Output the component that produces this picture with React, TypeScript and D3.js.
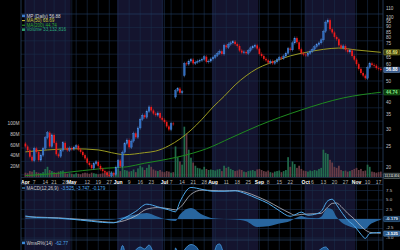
import React from 'react';
import * as d3 from 'd3';

// ---------- data ----------
const closes = [
  25.0, 24.0, 22.4, 21.5, 24.5, 23.6, 21.6, 22.8, 24.5, 27.5, 29.0, 25.0, 28.3, 26.0, 23.0, 22.5, 24.0, 26.0, 24.5, 24.0, 24.6,
  24.3, 24.8, 25.2, 24.2, 23.6, 22.8, 22.0, 21.0, 20.5, 19.8, 20.8, 21.2, 20.3, 19.6, 19.2, 18.9, 18.4, 18.2, 18.8, 18.5, 20.0,
  21.5, 20.2, 23.5, 25.8, 26.8, 24.8, 26.5, 28.8, 27.6, 30.5, 33.5, 35.0, 34.2, 36.5, 38.2, 36.8, 35.6, 35.0, 35.8, 34.0, 33.3,
  32.5, 31.0, 30.0, 32.0, 31.8, 45.5, 46.5, 44.5, 45.0, 61.0, 60.5, 62.5, 63.5, 61.0, 61.8, 62.5, 63.0, 63.8, 65.5, 62.0, 62.5, 64.0,
  65.0, 66.5, 68.0, 69.5, 67.5, 74.0, 72.5, 75.0, 76.0, 77.0, 75.0, 73.5, 70.0, 68.5, 69.0, 68.0, 70.0, 72.0, 73.0, 74.0, 71.5,
  67.5, 66.0, 64.0, 63.0, 61.5, 62.5, 61.0, 62.0, 63.5, 65.0, 64.5, 66.0, 68.0, 71.5, 70.5, 76.0, 80.0, 76.5, 71.0, 68.0, 67.0,
  66.5, 68.0, 69.5, 71.0, 73.0, 74.5, 76.0, 78.5, 86.0, 95.0, 97.0, 88.0, 85.0, 81.0, 79.0, 74.0, 72.0, 73.5, 70.5, 69.0, 70.0, 66.0, 63.5,
  60.5, 57.5, 55.0, 53.5, 52.0, 58.5, 61.0, 60.0, 59.5, 58.0, 57.5, 56.88,
];
const firstOpen = 25.8;
const gapDayIdx = [68, 72];
const gapDayOpen = [42.5, 53.5];

const volumesM = [
  9, 8, 12, 11, 14, 10, 9, 8, 10, 16, 20, 14, 12, 10, 9, 11, 12, 13, 8, 7, 8,
  7, 6, 8, 7, 6, 8, 9, 8, 7, 9, 8, 7, 6, 7, 8, 9, 10, 12, 11, 9, 14,
  16, 12, 18, 14, 13, 11, 12, 15, 10, 17, 22, 19, 14, 18, 24, 20, 15, 13, 12, 14, 11,
  10, 12, 11, 9, 10, 58, 38, 30, 24, 95, 82, 52, 37, 28, 22, 18, 17, 15, 20, 16, 14, 15,
  14, 13, 15, 16, 12, 22, 18, 20, 16, 14, 12, 13, 15, 14, 11, 10, 12, 13, 14, 12, 15,
  16, 14, 12, 11, 13, 10, 9, 11, 12, 13, 10, 12, 14, 38, 20, 30, 25, 18, 22, 16, 13,
  12, 11, 13, 12, 14, 13, 16, 18, 52, 46, 44, 33, 28, 20, 18, 22, 14, 12, 13, 11, 12, 14, 16,
  18, 14, 16, 12, 13, 24, 20, 11, 10, 9, 10, 11,
];

const ma50Idx = [0, 10, 22, 33, 39, 45, 54, 59, 65, 70, 75, 80, 85, 90, 95, 100, 105, 110, 115, 120, 127, 135, 142, 150, 161];
const ma50Val = [23.6, 24.1, 24.4, 24.1, 23.4, 22.9, 23.4, 23.8, 25.2, 27.1, 29.8, 33.5, 38.2, 42.8, 48.4, 53.4, 57.7, 60.8, 63.5, 66.1, 68.6, 70.9, 71.9, 70.4, 68.69];

const ma200Idx = [0, 16, 36, 46, 54, 61, 76, 82, 93, 106, 125, 144, 161];
const ma200Val = [18.3, 18.8, 19.8, 20.1, 20.9, 21.5, 23.3, 24.4, 27.4, 31.4, 37.0, 42.1, 44.74];

const macdIdx = [0, 5, 10, 15, 20, 25, 30, 35, 40, 45, 50, 55, 60, 65, 68, 70, 75, 80, 85, 90, 95, 100, 105, 110, 115, 120, 122, 125, 128, 132, 134, 137, 139, 141, 143, 146, 149, 152, 154, 156, 159, 161];
const macdLine = [0.8, 0.4, 0.3, 0.2, 0.0, -0.3, -0.6, -0.9, -1.0, 0.3, 2.0, 3.9, 3.2, 2.4, 1.9, 4.5, 8.3, 7.8, 7.3, 7.3, 7.4, 6.6, 5.4, 4.1, 2.2, 0.7, 1.1, 1.8, 1.0, 1.4, 2.0, 4.8, 5.2, 3.7, 2.0, -0.3, -1.8, -4.0, -5.1, -3.8, -3.6, -3.5];
const signalLine = [0.6, 0.5, 0.4, 0.3, 0.1, -0.1, -0.4, -0.7, -0.9, -0.4, 0.8, 2.6, 3.0, 2.7, 2.4, 3.0, 6.5, 7.6, 7.5, 7.4, 7.5, 7.0, 5.9, 4.6, 3.0, 1.5, 1.0, 1.2, 1.3, 1.4, 1.5, 3.2, 4.1, 4.2, 3.3, 1.5, 0.0, -1.9, -2.9, -3.5, -3.7, -3.75];
const histVals = [0.2, 0.1, 0.0, 0.0, -0.1, -0.1, -0.2, -0.2, -0.1, 0.6, 1.2, 1.6, 0.6, -0.3, -0.5, 1.2, 2.9, 1.2, 0.2, 0.0, -0.1, -0.6, -2.1, -1.9, -1.2, -0.5, 0.1, 0.8, 0.3, 0.2, 0.6, 2.9, 2.5, 0.5, -0.8, -1.8, -2.4, -2.6, -2.6, -1.5, -0.6, -0.2];

const wrIdx = [0, 6, 12, 18, 24, 30, 36, 40, 42, 44, 46, 49, 52, 54, 56, 58, 60, 64, 67, 68, 70, 72, 75, 77, 80, 84, 87, 88, 91, 95, 100, 104, 108, 113, 118, 121, 124, 128, 133, 136, 139, 143, 148, 152, 154, 155, 158, 161];
const wrVals = [-55, -70, -35, -60, -50, -85, -95, -80, -45, -5, -30, -18, -8, -12, -4, -20, -45, -75, -70, -10, -30, -14, -3, -6, -25, -35, -3, -2, -35, -40, -60, -30, -80, -75, -40, -15, -60, -40, -15, -8, -30, -80, -90, -97, -98, -45, -60, -62.77];

const priceTicks = [110, 100, 95, 90, 85, 80, 75, 70, 65, 60, 55, 50, 45, 40, 35, 30, 25, 20];
const volumeTicks = [20, 40, 60, 80, 100];
const macdTicks = [7.5, 5, 2.5, -2.5, -5];
const monthNames = ['Jan', 'Feb', 'Mar', 'Apr', 'May', 'Jun', 'Jul', 'Aug', 'Sep', 'Oct', 'Nov', 'Dec'];
const holidays = ['2014-04-18', '2014-05-26', '2014-07-04', '2014-09-01'];

// ---------- helpers ----------
function buildDays(): Date[] {
  const out: Date[] = [];
  let d = new Date(Date.UTC(2014, 3, 1));
  const end = new Date(Date.UTC(2014, 10, 18));
  while (d <= end) {
    const wd = d.getUTCDay();
    const iso = d.toISOString().slice(0, 10);
    if (wd !== 0 && wd !== 6 && holidays.indexOf(iso) < 0) out.push(new Date(d));
    d = new Date(d.getTime() + 86400000);
  }
  return out;
}

const FONT = 'Liberation Sans, Arial, sans-serif';
const PL = 21, PR = 383;
const MAIN_BOTTOM = 177.5;
const MACD_TOP = 184.5, MACD_BOTTOM = 240;
const NAVY = '#14142e';
const GRID = '#1a2d4a';
const BORDER = '#2a4262';

export default function App() {
  const days = buildDays();
  const x = d3.scaleLinear().domain([-2, 162]).range([PL, PR]);
  const yP = d3.scaleLog().domain([20, 100]).range([167.3, 17.3]);
  const yV = d3.scaleLinear().domain([0, 100]).range([MAIN_BOTTOM, 124]);
  const yM = d3.scaleLinear().domain([-5, 7.5]).range([238, 190.5]);
  const yW = d3.scaleLinear().domain([-100, 0]).range([293, 243]);

  const opens = closes.map((c, i) => {
    const g = gapDayIdx.indexOf(i);
    if (g >= 0) return gapDayOpen[g];
    return i === 0 ? firstOpen : closes[i - 1];
  });

  // month segments
  const months: { m: number; start: number; end: number }[] = [];
  days.forEach((d, i) => {
    const m = d.getUTCMonth();
    if (!months.length || months[months.length - 1].m !== m) months.push({ m, start: i, end: i });
    else months[months.length - 1].end = i;
  });
  const weekStarts: number[] = [];
  days.forEach((d, i) => {
    if (i === 0 || d.getUTCDay() <= days[i - 1].getUTCDay()) weekStarts.push(i);
  });
  const monthStarts = months.map((m) => m.start);
  const labels: { i: number; text: string; bold: boolean }[] = [];
  monthStarts.forEach((i) => labels.push({ i, text: monthNames[days[i].getUTCMonth()], bold: true }));
  weekStarts.forEach((i) => {
    if (monthStarts.indexOf(i) >= 0) return;
    const near = monthStarts.some((s) => Math.abs(i - s) < 3);
    if (near) return;
    labels.push({ i, text: String(days[i].getUTCDate()), bold: false });
  });
  const gridXs = Array.from(new Set([...weekStarts, ...monthStarts]));

  const bandX0 = (m: { start: number }) => Math.max(PL, x(m.start - 0.5));
  const bandX1 = (m: { end: number }) => Math.min(PR, x(m.end + 0.5));

  const hGrid = d3.range(0, 13).map((k) => 14 + k * 13.4);

  const ma50Path = d3.line<number>().x((_, k) => x(ma50Idx[k])).y((v) => yP(v)).curve(d3.curveMonotoneX)(ma50Val) || '';
  const ma200Path = d3.line<number>().x((_, k) => x(ma200Idx[k])).y((v) => yP(v)).curve(d3.curveMonotoneX)(ma200Val) || '';
  const macdPath = d3.line<number>().x((_, k) => x(macdIdx[k])).y((v) => yM(v)).curve(d3.curveMonotoneX)(macdLine) || '';
  const sigPath = d3.line<number>().x((_, k) => x(macdIdx[k])).y((v) => yM(v)).curve(d3.curveMonotoneX)(signalLine) || '';
  const histPath = d3.area<number>().x((_, k) => x(macdIdx[k])).y0(yM(0)).y1((v) => yM(v)).curve(d3.curveMonotoneX)(histVals) || '';
  const wrLine = d3.line<number>().x((_, k) => x(wrIdx[k])).y((v) => yW(v)).curve(d3.curveMonotoneX)(wrVals) || '';
  const wrArea = d3.area<number>().x((_, k) => x(wrIdx[k])).y0(300).y1((v) => yW(v)).curve(d3.curveMonotoneX)(wrVals) || '';

  const lastClose = closes[closes.length - 1];
  const lastMa50 = ma50Val[ma50Val.length - 1];
  const lastMa200 = ma200Val[ma200Val.length - 1];
  const boxYs = [yP(lastClose), yP(lastMa50), yP(lastMa200)];

  const box = (y: number, text: string, fill: string, stroke: string, color: string, key: string, fs = 4.6) => (
    <g key={key}>
      <rect x={383.5} y={y - 2.6} width={16.5} height={5.2} fill={fill} stroke={stroke} strokeWidth={0.5} rx={0.8} />
      <text x={391.8} y={y + 0.2} fontSize={fs} fill={color} textAnchor="middle"
        dominantBaseline="middle" fontFamily={FONT} fontWeight="bold">{text}</text>
    </g>
  );

  return (
    <svg width={400} height={250} style={{ position: 'absolute', left: 0, top: 0, background: '#000' }}>
      <defs>
        <clipPath id="mainClip"><rect x={PL} y={0} width={PR - PL} height={MAIN_BOTTOM} /></clipPath>
        <clipPath id="macdClip"><rect x={PL} y={MACD_TOP} width={PR - PL} height={MACD_BOTTOM - MACD_TOP} /></clipPath>
        <clipPath id="wrClip"><rect x={PL} y={MACD_BOTTOM} width={PR - PL} height={20} /></clipPath>
      </defs>
      <rect x={0} y={0} width={400} height={250} fill="#000" />

      {/* month bands */}
      {months.map((m, k) => (k % 2 === 0 ? (
        <g key={'band' + k}>
          <rect x={bandX0(m)} y={0} width={bandX1(m) - bandX0(m)} height={MAIN_BOTTOM} fill={NAVY} />
          <rect x={bandX0(m)} y={MACD_TOP} width={bandX1(m) - bandX0(m)} height={250 - MACD_TOP} fill={NAVY} />
        </g>
      ) : null))}

      {/* grid */}
      {gridXs.map((i) => (
        <g key={'vg' + i}>
          <line x1={x(i)} x2={x(i)} y1={0} y2={MAIN_BOTTOM} stroke={GRID} strokeWidth={0.6} />
          <line x1={x(i)} x2={x(i)} y1={MACD_TOP} y2={250} stroke={GRID} strokeWidth={0.6} />
        </g>
      ))}
      {hGrid.map((y, k) => (
        <line key={'hg' + k} x1={PL} x2={PR} y1={y} y2={y} stroke={k === 0 ? '#24406a' : GRID} strokeWidth={0.6} />
      ))}
      {[7.5, 5, 2.5, 0, -2.5, -5].map((v) => (
        <line key={'mg' + v} x1={PL} x2={PR} y1={yM(v)} y2={yM(v)} stroke={GRID} strokeWidth={0.6} />
      ))}

      {/* main panel */}
      <g clipPath="url(#mainClip)">
        {volumesM.map((v, i) => (
          <rect key={'v' + i} x={x(i) - 0.85} y={yV(v)} width={1.7} height={yV(0) - yV(v)}
            fill={closes[i] >= opens[i] ? '#23704f' : '#6a3e48'} opacity={0.95} />
        ))}
        <path d={ma200Path} fill="none" stroke="#1f8a1f" strokeWidth={1} />
        <path d={ma50Path} fill="none" stroke="#9a9a22" strokeWidth={1} />
        {closes.map((c, i) => {
          const o = opens[i];
          const up = c >= o;
          const hi = Math.max(o, c) * 1.018;
          const lo = Math.min(o, c) * 0.982;
          const top = yP(Math.max(o, c));
          const h = Math.max(0.8, yP(Math.min(o, c)) - top);
          const col = up ? '#2f6cc0' : '#ee1c1c';
          return (
            <g key={'c' + i}>
              <line x1={x(i)} x2={x(i)} y1={yP(hi)} y2={yP(lo)} stroke={up ? '#4a88d8' : '#d01818'} strokeWidth={0.5} />
              <rect x={x(i) - 0.85} y={top} width={1.7} height={h} fill={col} stroke={up ? '#5a98e8' : 'none'} strokeWidth={0.3} />
            </g>
          );
        })}
      </g>

      {/* legend main */}
      <g fontFamily={FONT} fontSize={4.6}>
        <rect x={22} y={14.6} width={3} height={2.6} fill="#3a78c8" />
        <text x={26.5} y={17.6} fill="#d8d8d8">MP (Daily) 56.88</text>
        <line x1={22} x2={25} y1={20.6} y2={20.6} stroke="#c8c83a" strokeWidth={1} />
        <text x={26.5} y={22.2} fill="#c8c83a">MA(50) 68.69</text>
        <line x1={22} x2={25} y1={25.2} y2={25.2} stroke="#2aa82a" strokeWidth={1} />
        <text x={26.5} y={26.8} fill="#2aa82a">MA(200) 44.74</text>
        <rect x={22} y={28.4} width={3} height={2.6} fill="#2a9a6a" />
        <text x={26.5} y={31.4} fill="#2aa878">Volume 33,132,816</text>
      </g>

      {/* right price axis */}
      <g fontFamily={FONT} fontSize={4.6} fill="#c4c4c4">
        {priceTicks.filter((p) => boxYs.every((b) => Math.abs(yP(p) - b) > 4)).map((p) => (
          <text key={'pt' + p} x={386} y={yP(p)} dominantBaseline="middle">{p}</text>
        ))}
      </g>
      {box(yP(lastMa50), '68.69', '#3c3c0c', '#a8a830', '#e4e480', 'b50')}
      {box(yP(lastClose), '56.88', '#3a5a8c', '#7aa0d0', '#ffffff', 'bc')}
      {box(yP(lastMa200), '44.74', '#0c3a0c', '#2aa02a', '#88e888', 'b200')}
      {box(MAIN_BOTTOM - 1.6, '33,132,816', '#1a2426', '#8a9a9a', '#d0d0d0', 'bv', 2.9)}

      {/* left volume axis */}
      <g fontFamily={FONT} fontSize={4.8} fill="#c4c4c4" textAnchor="end">
        {volumeTicks.map((v) => (
          <text key={'vt' + v} x={19.5} y={yV(v)} dominantBaseline="middle">{v}M</text>
        ))}
      </g>

      {/* date axis */}
      <rect x={PL} y={MAIN_BOTTOM} width={PR - PL} height={MACD_TOP - MAIN_BOTTOM} fill="#000" />
      <g fontFamily={FONT} fontSize={5} textAnchor="middle">
        {labels.map((l) => (
          <text key={'dl' + l.i} x={x(l.i)} y={183.6} fill={l.bold ? '#ffffff' : '#b4b4b4'} fontWeight={l.bold ? 'bold' : 'normal'}>{l.text}</text>
        ))}
      </g>

      {/* MACD panel */}
      <g clipPath="url(#macdClip)">
        <path d={histPath} fill="#2a6aa6" opacity={0.95} />
        <path d={sigPath} fill="none" stroke="#bcbcc4" strokeWidth={0.8} />
        <path d={macdPath} fill="none" stroke="#4ea8ea" strokeWidth={1} />
      </g>
      <g fontFamily={FONT} fontSize={4.6}>
        <line x1={22} x2={25} y1={188} y2={188} stroke="#4ea8ea" strokeWidth={1} />
        <text x={26.5} y={189.6} fill="#d0d0d0">MACD(12,26,9)</text>
        <text x={61} y={189.6} fill="#4ea8ea">-3.525, -3.747, -0.179</text>
      </g>
      <g fontFamily={FONT} fontSize={4.4} fill="#c4c4c4">
        {macdTicks.map((v) => (
          <text key={'mt' + v} x={386} y={yM(v) - (v === -2.5 ? 0.8 : 0)} dominantBaseline="middle">{v.toFixed(1)}</text>
        ))}
      </g>
      {box(yM(0), '-0.179', '#1a3a5c', '#4a8ac0', '#d8e8ff', 'bh', 4.4)}
      {box(yM(-3.525) + 1.2, '-3.525', '#2a5a8c', '#6aa0d8', '#ffffff', 'bm', 4.4)}

      {/* Williams %R panel */}
      <line x1={PL} x2={PR} y1={MACD_BOTTOM} y2={MACD_BOTTOM} stroke={BORDER} strokeWidth={0.7} />
      <g clipPath="url(#wrClip)">
        <path d={wrArea} fill="#1f5a98" opacity={0.9} />
        <path d={wrLine} fill="none" stroke="#4a9ae0" strokeWidth={0.8} />
      </g>
      <g fontFamily={FONT} fontSize={4.6}>
        <rect x={22} y={241.6} width={3} height={2.6} fill="#3a88d8" />
        <text x={26.5} y={244.6} fill="#d0d0d0">WmsR%(14)</text>
        <text x={55} y={244.6} fill="#4ea8ea">-62.77</text>
      </g>

      {/* borders */}
      <line x1={PL} x2={PL} y1={0} y2={250} stroke={BORDER} strokeWidth={0.8} />
      <line x1={PR} x2={PR} y1={0} y2={250} stroke={BORDER} strokeWidth={0.8} />
      <line x1={PL} x2={PR} y1={MAIN_BOTTOM} y2={MAIN_BOTTOM} stroke={BORDER} strokeWidth={0.6} />
      <line x1={PL} x2={PR} y1={MACD_TOP} y2={MACD_TOP} stroke={BORDER} strokeWidth={0.6} />
    </svg>
  );
}
